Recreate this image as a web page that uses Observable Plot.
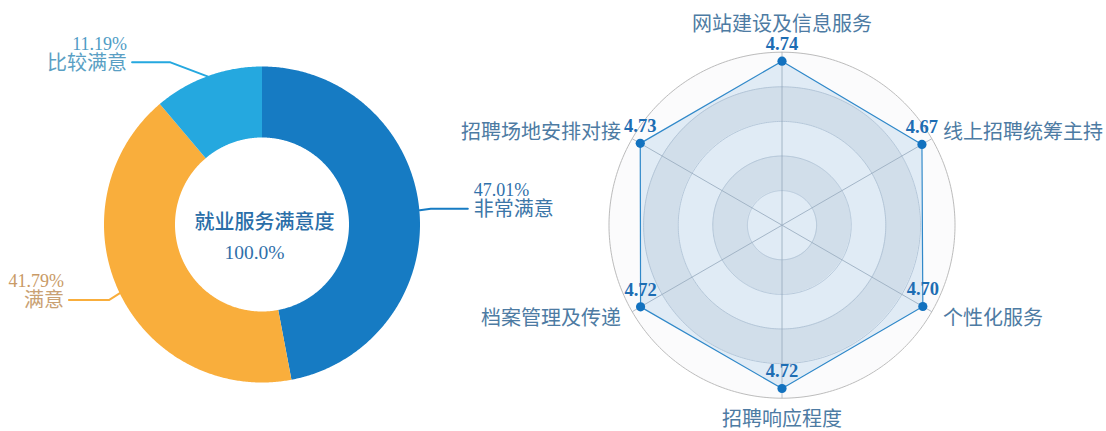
<!DOCTYPE html>
<html><head><meta charset="utf-8">
<script src="https://cdn.jsdelivr.net/npm/d3@7"></script>
<script src="https://cdn.jsdelivr.net/npm/@observablehq/plot@0.6"></script>
<style>body{margin:0;background:#fff}#chart svg{display:block;overflow:visible}</style>
</head><body><div id="chart"></div>
<script>
// ---------- data ----------
const donutCategories = ["非常满意", "满意", "比较满意"];
const donutValues = [47.01, 41.79, 11.19];
const donutTitle = "就业服务满意度";
const radarAxes = ["网站建设及信息服务", "线上招聘统筹主持", "个性化服务", "招聘响应程度", "档案管理及传递", "招聘场地安排对接"];
const radarValues = [4.74, 4.67, 4.70, 4.72, 4.72, 4.73];
const radarMax = 5;
const radarRings = 5;

// ---------- styles / layout ----------
const W = 1106, H = 431;
const FONT = "'Liberation Serif','Noto Sans CJK SC',serif";
const donutColors = ["#167bc3", "#f9ae3c", "#25a8df"];
const pctColors = ["#2f70aa", "#c99a66", "#4f9cc5"];
const nameColors = ["#3c76a8", "#c9a173", "#5a9fc4"];
const D = {cx: 262, cy: 224.5, r0: 87, r1: 158};
const R = {cx: 781.5, cy: 224.7, r: 173};
// leader line layout per slice: elbow offset from arc edge, horizontal run
const leaderLayout = [
  {dx: 11, dy: -1.4, run: 37},
  {dx: -11, dy: 7, run: -40},
  {dx: -37.7, dy: -14.3, run: -38.3}
];

const pt = (cx, cy, r, a) => [cx + r * Math.sin(a), cy - r * Math.cos(a)];

// ---------- donut geometry ----------
const total = d3.sum(donutValues);
let acc = 0;
const slices = donutCategories.map((name, i) => {
  const a0 = acc / total * 2 * Math.PI;
  acc += donutValues[i];
  const a1 = acc / total * 2 * Math.PI;
  return {name, value: donutValues[i], a0, a1, i};
});
const donutRows = slices.flatMap(s => {
  const n = Math.max(4, Math.ceil((s.a1 - s.a0) / (Math.PI / 360)));
  return d3.range(n + 1).map(k => {
    const a = s.a0 + (s.a1 - s.a0) * k / n;
    const [ox, oy] = pt(D.cx, D.cy, D.r1, a);
    const [ix, iy] = pt(D.cx, D.cy, D.r0, a);
    return {name: s.name, ox, oy, ix, iy};
  });
});
const leaders = slices.map(s => {
  const am = (s.a0 + s.a1) / 2;
  const [sx, sy] = pt(D.cx, D.cy, D.r1, am);
  const L = leaderLayout[s.i];
  const ex = sx + L.dx, ey = sy + L.dy;
  const hx = ex + L.run;
  return {s, pts: [[sx, sy], [ex, ey], [hx, ey]], endX: hx, y: ey, anchor: L.run > 0 ? "start" : "end"};
});
const leaderRows = leaders.flatMap(l => l.pts.map(([x, y]) => ({name: l.s.name, x, y})));
const leaderLabels = leaders.map(l => ({
  name: l.s.name, i: l.s.i,
  x: l.endX + (l.anchor === "start" ? 6 : -5),
  yName: l.y + 1, yPct: l.y - 18.5, anchor: l.anchor,
  pct: l.s.value.toFixed(2) + "%"
}));

// ---------- radar geometry ----------
const rScale = d3.scaleLinear([0, radarMax], [0, R.r]);
const nAx = radarAxes.length;
const axisAngle = i => i * 2 * Math.PI / nAx;
const ringStep = R.r / radarRings;
const bandRows = d3.range(radarRings).flatMap(k => d3.range(361).map(d => {
  const a = d * Math.PI / 180;
  const [ox, oy] = pt(R.cx, R.cy, ringStep * (k + 1), a);
  const [ix, iy] = pt(R.cx, R.cy, ringStep * k, a);
  return {k, ox, oy, ix, iy};
}));
const ringRows = d3.range(1, radarRings + 1).flatMap(k => d3.range(361).map(d => {
  const [x, y] = pt(R.cx, R.cy, ringStep * k, d * Math.PI / 180);
  return {k, x, y};
}));
const spokes = radarAxes.map((name, i) => {
  const [x2, y2] = pt(R.cx, R.cy, R.r, axisAngle(i));
  return {name, x1: R.cx, y1: R.cy, x2, y2};
});
const radarPts = radarAxes.map((name, i) => {
  const [x, y] = pt(R.cx, R.cy, rScale(radarValues[i]), axisAngle(i));
  return {name, value: radarValues[i], x, y, cx: R.cx, cy: R.cy};
});
const radarClosed = [...radarPts, radarPts[0]];
const axisLabels = radarAxes.map((name, i) => {
  const a = axisAngle(i);
  const s = Math.sin(a);
  const anchor = s > 0.1 ? "start" : s < -0.1 ? "end" : "middle";
  const rr = anchor === "middle" ? (Math.cos(a) > 0 ? R.r + 28 : R.r + 21.5) : R.r + 13;
  const [x, y] = pt(R.cx, R.cy, rr, a);
  return {name, x, y, anchor};
});

const txt = (data, o) => Plot.text(data, {fontFamily: FONT, lineAnchor: "middle", ...o});

const chart = Plot.plot({
  width: W, height: H, margin: 0,
  x: {domain: [0, W], range: [0, W], axis: null},
  y: {domain: [0, H], range: [0, H], axis: null},
  color: {domain: donutCategories, range: donutColors},
  style: {background: "#fff"},
  marks: [
    // donut
    Plot.area(donutRows, {x1: "ox", y1: "oy", x2: "ix", y2: "iy", z: "name", fill: "name"}),
    Plot.line(leaderRows, {x: "x", y: "y", z: "name", stroke: "name", strokeWidth: 2}),
    txt(leaderLabels.filter(d => d.anchor === "start"), {x: "x", y: "yPct", text: "pct", textAnchor: "start", fontSize: 18, fill: d => pctColors[d.i]}),
    txt(leaderLabels.filter(d => d.anchor === "start"), {x: "x", y: "yName", text: "name", textAnchor: "start", fontSize: 20, fill: d => nameColors[d.i]}),
    txt(leaderLabels.filter(d => d.anchor === "end"), {x: "x", y: "yPct", text: "pct", textAnchor: "end", fontSize: 18, fill: d => pctColors[d.i]}),
    txt(leaderLabels.filter(d => d.anchor === "end"), {x: "x", y: "yName", text: "name", textAnchor: "end", fontSize: 20, fill: d => nameColors[d.i]}),
    txt([{t: donutTitle}], {x: () => D.cx + 2, y: () => D.cy - 2.5, text: "t", fontSize: 20, fontWeight: 500, fill: "#2a6ea8"}),
    txt([{t: total.toFixed(1) + "%"}], {x: () => D.cx - 8, y: () => D.cy + 27.5, text: "t", fontSize: 19.5, fill: "#2f6faa"}),
    // radar background
    Plot.area(bandRows, {x1: "ox", y1: "oy", x2: "ix", y2: "iy", z: "k", fill: d => d.k % 2 ? "#eaecef" : "#fbfbfc"}),
    Plot.line(ringRows.filter(d => d.k < radarRings), {x: "x", y: "y", z: "k", stroke: "#c4cdd8", strokeWidth: 0.9}),
    Plot.line(ringRows.filter(d => d.k === radarRings), {x: "x", y: "y", z: "k", stroke: "#bcbcbc", strokeWidth: 1}),
    Plot.link(spokes, {x1: "x1", y1: "y1", x2: "x2", y2: "y2", stroke: "#aeb7c2", strokeWidth: 0.9}),
    // radar series
    Plot.area(radarClosed, {x1: "x", y1: "y", x2: "cx", y2: "cy", fill: "rgb(30,120,200)", fillOpacity: 0.12}),
    Plot.line(radarClosed, {x: "x", y: "y", stroke: "#2f88c9", strokeWidth: 1.2}),
    Plot.dot(radarPts, {x: "x", y: "y", r: 4.6, fill: "#1372bf"}),
    txt(radarPts, {x: "x", y: d => d.y - 17, text: d => d.value.toFixed(2), fontSize: 18.5, fontWeight: "bold", fill: "#1d6db3"}),
    txt(axisLabels.filter(d => d.anchor === "middle"), {x: "x", y: "y", text: "name", textAnchor: "middle", fontSize: 20, fill: "#4d7ba3"}),
    txt(axisLabels.filter(d => d.anchor === "start"), {x: "x", y: "y", text: "name", textAnchor: "start", fontSize: 20, fill: "#4d7ba3"}),
    txt(axisLabels.filter(d => d.anchor === "end"), {x: "x", y: "y", text: "name", textAnchor: "end", fontSize: 20, fill: "#4d7ba3"})
  ]
});
document.getElementById("chart").appendChild(chart);
</script>
</body></html>
